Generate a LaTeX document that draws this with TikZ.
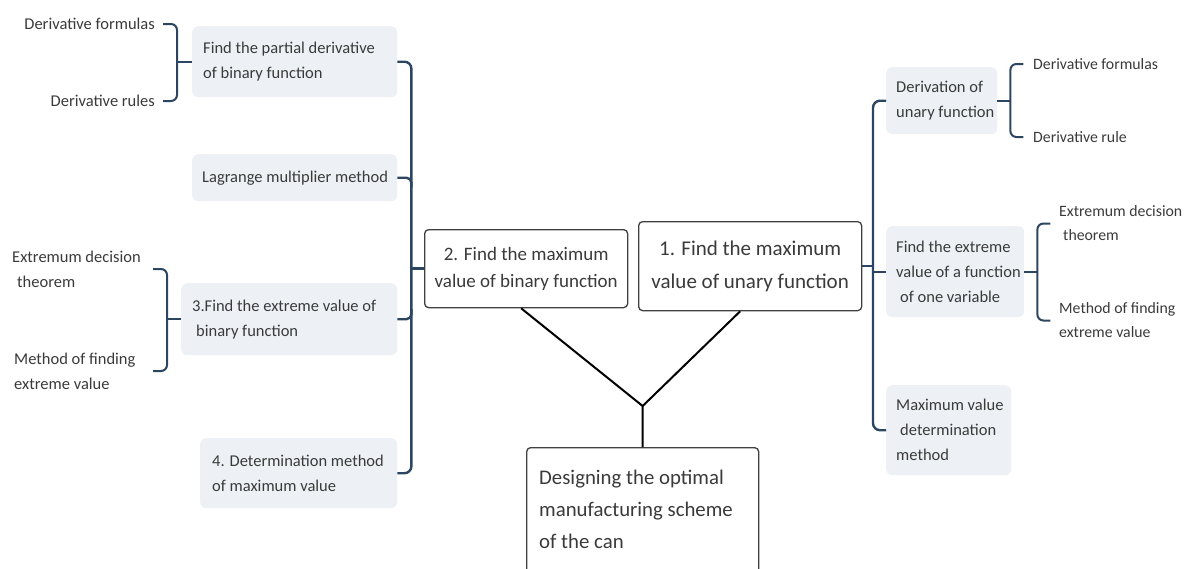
\documentclass[tikz,border=0pt]{standalone}
\usepackage{fontspec}
\setmainfont{Carlito}
\definecolor{textgray}{HTML}{3A3A3A}
\definecolor{boxfill}{HTML}{EDF1F5}
\definecolor{linkblue}{HTML}{2C4661}
\definecolor{frame}{HTML}{404040}
\begin{document}
\begin{tikzpicture}[x=1pt,y=-1pt,
  txt/.style={text=textgray, inner sep=0pt, align=left, font=\fontsize{16.5}{25}\selectfont},
  smalltxt/.style={txt, font=\fontsize{15.8}{24}\selectfont},
  topic/.style={fill=boxfill, rounded corners=6pt, anchor=north west, inner sep=0pt},
  mainbox/.style={draw=frame, line width=1.3pt, fill=white, rounded corners=4pt, anchor=north west, inner sep=0pt},
  link/.style={draw=linkblue, line width=2.4pt, rounded corners=7pt},
  joint/.style={draw=linkblue, line width=2.4pt, rounded corners=5pt},
  straight/.style={draw=linkblue, line width=2.4pt},
  brace/.style={draw=linkblue, line width=2pt, rounded corners=6pt},
  bracetick/.style={draw=linkblue, line width=2pt},
  trunk/.style={draw=black, line width=2pt}
]
\useasboundingbox (0,0) rectangle (1186,568);

% ---------- left branch: topics ----------
\node[topic, minimum width=205pt, minimum height=71pt] (A) at (192,26) {};
\node[txt, anchor=west] (At) at ([xshift=11pt]A.west) {Find the partial derivative\\of binary function};
\node[topic, minimum width=205pt, minimum height=47pt] (B) at (192,154) {};
\node[txt, anchor=west] (Bt) at ([xshift=10pt]B.west) {Lagrange multiplier method};
\node[topic, minimum width=216pt, minimum height=72pt] (C) at (181,283) {};
\node[txt, anchor=west] (Ct) at ([xshift=11pt]C.west) {3.Find the extreme value of\\\hspace*{4pt}binary function};
\node[topic, minimum width=197pt, minimum height=70pt] (D) at (200,438) {};
\node[txt, anchor=west] (Dt) at ([xshift=12pt]D.west) {4. Determination method\\of maximum value};

% ---------- left branch: leaves ----------
\node[txt, anchor=east] (lf1) at (155,24) {Derivative formulas};
\node[txt, anchor=east] (lf2) at (155,101) {Derivative rules};
\node[txt, anchor=west] (lc1) at (12,269) {Extremum decision\\\hspace*{5pt}theorem};
\node[txt, anchor=west] (lc2) at (14,371) {Method of finding\\extreme value};

% ---------- centre ----------
\node[mainbox, minimum width=203pt, minimum height=78pt] (n2) at (424,229) {};
\node[text=textgray, inner sep=0pt, align=center, font=\fontsize{19}{27}\selectfont] (n2t) at (n2.center) {2. Find the maximum\\value of binary function};
\node[mainbox, minimum width=223pt, minimum height=89pt] (n1) at (638,221) {};
\node[text=textgray, inner sep=0pt, align=center, font=\fontsize{21}{33}\selectfont] (n1t) at (n1.center) {1. Find the maximum\\value of unary function};
\node[mainbox, minimum width=232pt, minimum height=130pt] (root) at (526,447) {};
\node[text=textgray, inner sep=0pt, align=left, anchor=north west, font=\fontsize{20.8}{32}\selectfont] (roott) at (539,470) {Designing the optimal\\manufacturing scheme\\of the can};

% ---------- right branch: topics ----------
\node[topic, minimum width=111pt, minimum height=67pt] (R1) at (886,67) {};
\node[txt, anchor=west] (R1t) at ([xshift=10pt]R1.west) {Derivation of\\unary function};
\node[topic, minimum width=138pt, minimum height=91pt] (R2) at (886,226) {};
\node[txt, anchor=west] (R2t) at ([xshift=10pt]R2.west) {Find the extreme\\value of a function\\\hspace*{4pt}of one variable};
\node[topic, minimum width=125pt, minimum height=90pt] (R3) at (886,385) {};
\node[txt, anchor=west] (R3t) at ([xshift=10pt]R3.west) {Maximum value\\\hspace*{4pt}determination\\method};

% ---------- right branch: leaves ----------
\node[smalltxt, anchor=west] (rf1) at (1033,64) {Derivative formulas};
\node[smalltxt, anchor=west] (rf2) at (1033,137) {Derivative rule};
\node[smalltxt, anchor=west] (rc1) at (1059,223.5) {Extremum decision\\\hspace*{4pt}theorem};
\node[smalltxt, anchor=west] (rc2) at (1059,320.5) {Method of finding\\extreme value};

% ---------- trunk joining the two halves to the root ----------
\coordinate (J) at ([yshift=41pt]root.north);
\draw[trunk] ([xshift=-5pt]n2.south) -- (J) -- (root.north);
\draw[trunk] ([xshift=-10pt]n1.south) -- (J);

% ---------- left spine ----------
\coordinate (Ls) at ([xshift=14pt]A.east);
\draw[link] (A.east) -| (Ls |- D.east) -- (D.east);
\draw[joint] (B.east) -| ([yshift=-10pt]B.east -| Ls);
\draw[joint] (C.east) -| ([yshift=10pt]C.east -| Ls);
\draw[straight] (n2.west) -- (n2.west -| Ls);

% ---------- right spine ----------
\coordinate (Rs) at ([xshift=-13pt]R1.west);
\draw[link] (R1.west) -| (Rs |- R3.west) -- (R3.west);
\draw[straight] (R2.west) -- (R2.west -| Rs);
\draw[straight] (n1.east) -- (n1.east -| Rs);

% ---------- brackets to the leaves ----------
\coordinate (Ab) at ([xshift=-15pt]A.west);
\coordinate (Ae) at ([xshift=-29pt]A.west);
\draw[brace] (lf1.east -| Ae) -| (Ab) |- (lf2.east -| Ae);
\draw[bracetick] (Ab) -- (A.west);

\coordinate (Cb) at ([xshift=-14pt]C.west);
\coordinate (Ce) at ([xshift=-28pt]C.west);
\draw[brace] (lc1.east -| Ce) -| (Cb) |- (lc2.east -| Ce);
\draw[bracetick] (Cb) -- (C.west);

\coordinate (R1b) at ([xshift=13pt]R1.east);
\coordinate (R1e) at ([xshift=26pt]R1.east);
\draw[brace] (rf1.west -| R1e) -| (R1b) |- (rf2.west -| R1e);
\draw[bracetick] (R1.east) -- (R1b);

\coordinate (R2b) at ([xshift=13pt]R2.east);
\coordinate (R2e) at ([xshift=26pt]R2.east);
\draw[brace] (rc1.west -| R2e) -| (R2b) |- (rc2.west -| R2e);
\draw[bracetick] (R2.east) -- (R2b);
\end{tikzpicture}
\end{document}
